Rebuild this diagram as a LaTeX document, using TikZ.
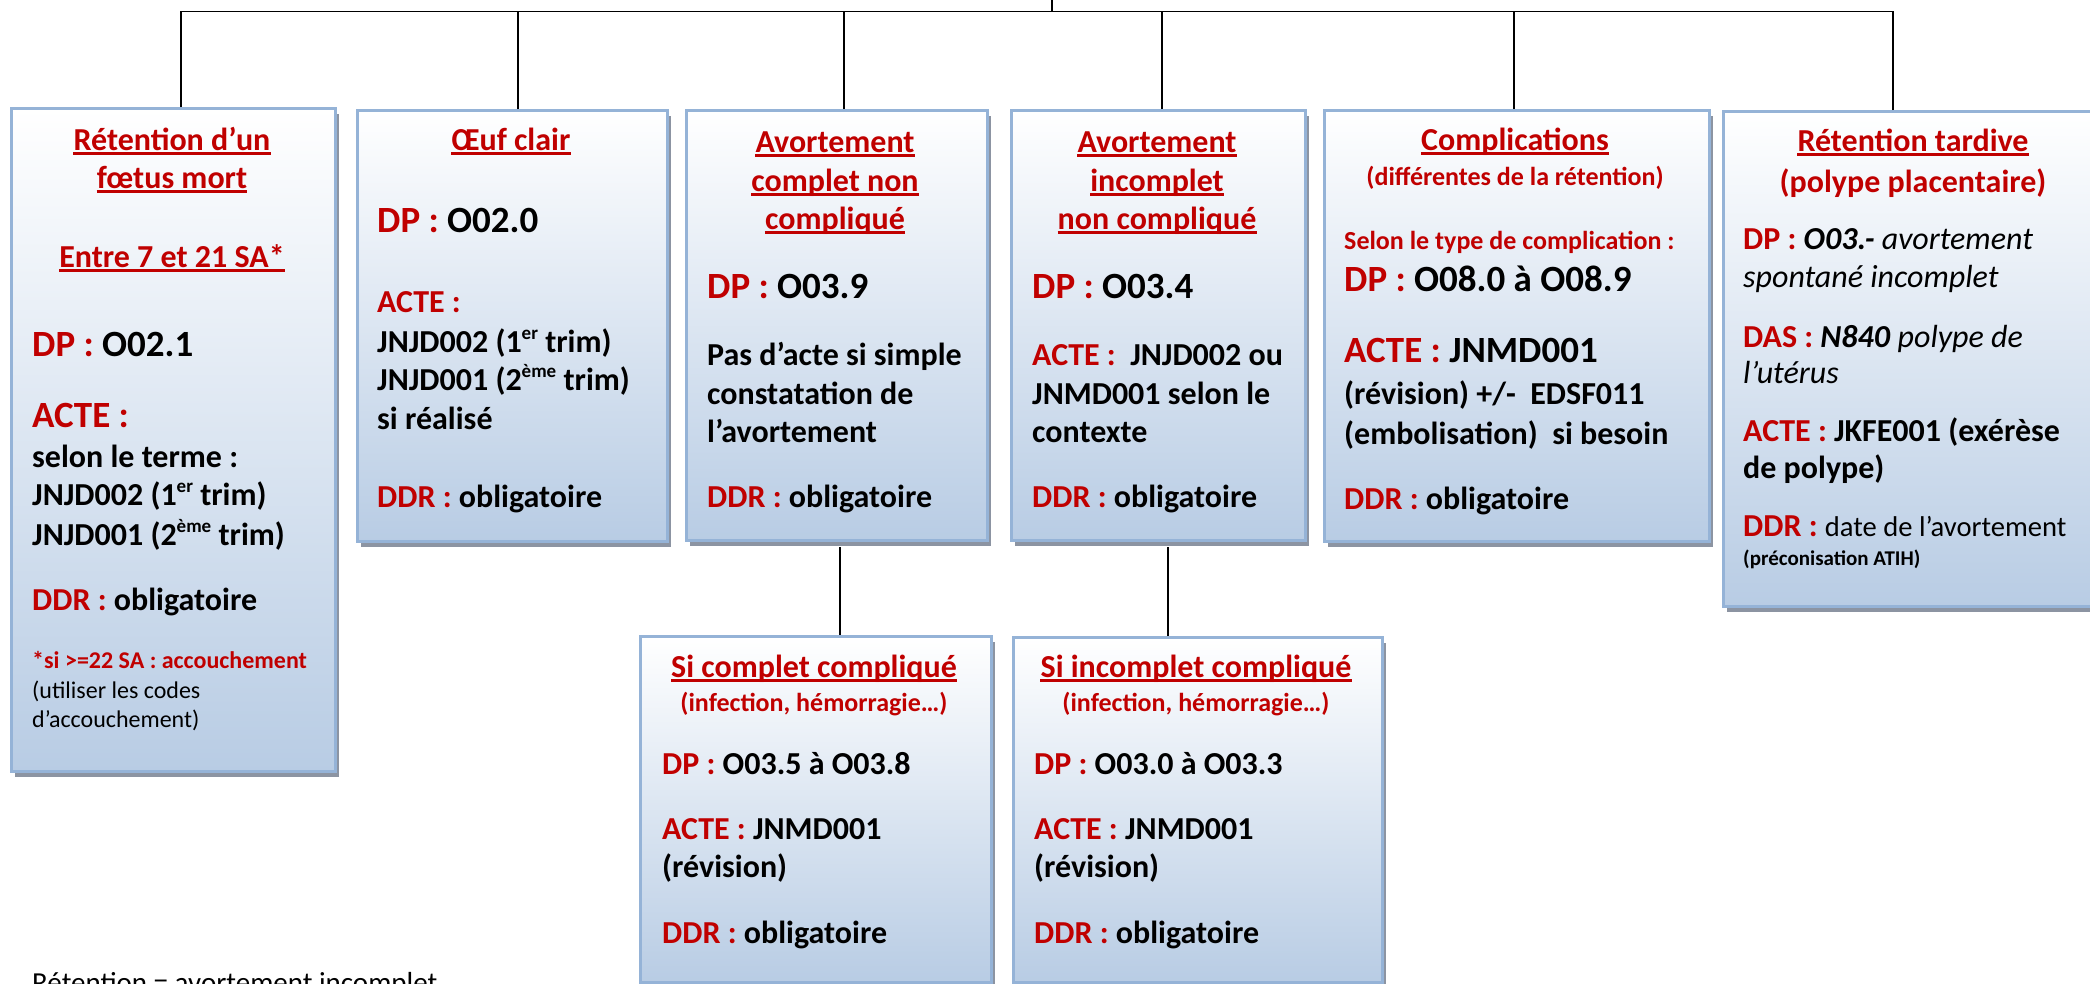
\documentclass[tikz,border=0pt]{standalone}
\usepackage{fontspec}
\setmainfont{Carlito}
\usetikzlibrary{shadows}
\definecolor{rd}{HTML}{C00000}
\definecolor{bxborder}{RGB}{149,179,215}
\definecolor{bxbottom}{RGB}{184,204,228}
\definecolor{shd}{RGB}{140,148,162}
\newcommand\redt[1]{\textcolor{rd}{#1}}
\newcommand\supx[1]{\raisebox{0.38em}{\fontsize{19}{19}\selectfont #1}}
\newcommand\ulin[1]{\draw[ul] ([yshift=-3.5pt]#1.base west) -- ([yshift=-3.5pt]#1.base east);}
\begin{document}
\begin{tikzpicture}[x=1pt,y=-1pt,
 box/.style={draw=bxborder, line width=3pt, top color=white, bottom color=bxbottom,
   anchor=north west, inner sep=0pt,
   drop shadow={shadow xshift=3pt, shadow yshift=-5pt, fill=shd, opacity=1}},
 conn/.style={draw=black, line width=1.4pt},
 ul/.style={draw=rd, line width=2.6pt},
 ttl/.style={anchor=base, inner sep=0pt, text=rd, font=\fontsize{32}{38}\selectfont\bfseries},
 smc/.style={anchor=base, inner sep=0pt, text=rd, font=\fontsize{26}{31}\selectfont\bfseries},
 sml/.style={anchor=base west, inner sep=0pt, text=rd, font=\fontsize{26}{31}\selectfont\bfseries},
 bd/.style={anchor=base west, inner sep=0pt, font=\fontsize{32}{38}\selectfont\bfseries},
 big/.style={anchor=base west, inner sep=0pt, font=\fontsize{37}{44}\selectfont\bfseries},
 nt/.style={anchor=base west, inner sep=0pt, text=rd, font=\fontsize{24}{29}\selectfont\bfseries},
 ntr/.style={anchor=base west, inner sep=0pt, font=\fontsize{24}{29}\selectfont},
 tiny/.style={anchor=base west, inner sep=0pt, font=\fontsize{21}{25}\selectfont\bfseries},
 foot/.style={anchor=base west, inner sep=0pt, font=\fontsize{29}{35}\selectfont}
]
\useasboundingbox (0,0) rectangle (2090,983);
\clip (0,0) rectangle (2090,983);
\fill[white] (0,0) rectangle (2090,983);

% boxes
\node[box, minimum width=324pt, minimum height=663pt] (b1) at (10,107) {};
\node[box, minimum width=310pt, minimum height=431pt] (b2) at (356,109) {};
\node[box, minimum width=301pt, minimum height=430pt] (b3) at (685,109) {};
\node[box, minimum width=294pt, minimum height=430pt] (b4) at (1010,109) {};
\node[box, minimum width=385pt, minimum height=431pt] (b5) at (1323,109) {};
\node[box, minimum width=382pt, minimum height=495pt] (b6) at (1722,110) {};
\node[box, minimum width=351pt, minimum height=346pt] (b7) at (639,635) {};
\node[box, minimum width=369pt, minimum height=345pt] (b8) at (1012,636) {};

% connectors
\coordinate (root) at (1052,-3);
\coordinate (hub) at (1052,11.5);
\draw[conn] (root) -- (hub);
\draw[conn] ([xshift=171pt]b1.north west) |- (hub);
\draw[conn] ([xshift=162pt]b2.north west) |- (hub);
\draw[conn] ([xshift=159pt]b3.north west) |- (hub);
\draw[conn] ([xshift=152pt]b4.north west) |- (hub);
\draw[conn] ([xshift=191pt]b5.north west) |- (hub);
\draw[conn] ([xshift=171pt]b6.north west) |- (hub);
\draw[conn] ([xshift=155pt,yshift=-5pt]b3.south west) -- ([xshift=201pt]b7.north west);
\draw[conn] ([xshift=158pt,yshift=-5pt]b4.south west) -- ([xshift=156pt]b8.north west);

% box 1
\node[ttl] (t1a) at (172,150) {Rétention d’un}; \ulin{t1a}
\node[ttl] (t1b) at (172,188) {fœtus mort}; \ulin{t1b}
\node[ttl] (t1c) at (172,267) {Entre 7 et 21 SA*}; \ulin{t1c}
\node[big] (t1d) at (32,356) {\redt{DP :} O02.1};
\node[big] (t1e) at (32,427) {\redt{ACTE :}};
\node[bd] (t1f) at (32,467) {selon le terme :};
\node[bd] (t1g) at (32,505) {JNJD002 (1\supx{er} trim)};
\node[bd] (t1h) at (32,545) {JNJD001 (2\supx{ème} trim)};
\node[bd] (t1i) at (32,610) {\redt{DDR :} obligatoire};
\node[nt] (t1j) at (32,668) {*si >=22 SA : accouchement};
\node[ntr] (t1k) at (32,698) {(utiliser les codes};
\node[ntr] (t1l) at (32,727) {d’accouchement)};

% box 2
\node[ttl] (t2a) at (511,150) {Œuf clair}; \ulin{t2a}
\node[big] (t2b) at (377,232) {\redt{DP :} O02.0};
\node[bd] (t2c) at (377,312) {\redt{ACTE :}};
\node[bd] (t2d) at (377,352) {JNJD002 (1\supx{er} trim)};
\node[bd] (t2e) at (377,390) {JNJD001 (2\supx{ème} trim)};
\node[bd] (t2f) at (377,429) {si réalisé};
\node[bd] (t2g) at (377,507) {\redt{DDR :} obligatoire};

% box 3
\node[ttl] (t3a) at (835,152) {Avortement}; \ulin{t3a}
\node[ttl] (t3b) at (835,191) {complet non}; \ulin{t3b}
\node[ttl] (t3c) at (835,229) {compliqué}; \ulin{t3c}
\node[big] (t3d) at (707,298) {\redt{DP :} O03.9};
\node[bd] (t3e) at (707,365) {Pas d’acte si simple};
\node[bd] (t3f) at (707,404) {constatation de};
\node[bd] (t3g) at (707,442) {l’avortement};
\node[bd] (t3h) at (707,507) {\redt{DDR :} obligatoire};

% box 4
\node[ttl] (t4a) at (1157,152) {Avortement}; \ulin{t4a}
\node[ttl] (t4b) at (1157,191) {incomplet}; \ulin{t4b}
\node[ttl] (t4c) at (1157,229) {non compliqué}; \ulin{t4c}
\node[big] (t4d) at (1032,298) {\redt{DP :} O03.4};
\node[bd] (t4e) at (1032,365) {\redt{ACTE :}\ \ JNJD002 ou};
\node[bd] (t4f) at (1032,404) {JNMD001 selon le};
\node[bd] (t4g) at (1032,442) {contexte};
\node[bd] (t4h) at (1032,507) {\redt{DDR :} obligatoire};

% box 5
\node[ttl] (t5a) at (1515,150) {Complications}; \ulin{t5a}
\node[smc] (t5b) at (1515,185) {(différentes de la rétention)};
\node[sml] (t5c) at (1344,249) {Selon le type de complication :};
\node[big] (t5d) at (1344,291) {\redt{DP :} O08.0 à O08.9};
\node[big] (t5e) at (1344,362) {\redt{ACTE :} JNMD001};
\node[bd] (t5f) at (1344,404) {(révision) +/-\ \ EDSF011};
\node[bd] (t5g) at (1344,444) {(embolisation)\ \ si besoin};
\node[bd] (t5h) at (1344,509) {\redt{DDR :} obligatoire};

% box 6
\node[ttl] (t6a) at (1913,151) {Rétention tardive}; \ulin{t6a}
\node[ttl] (t6b) at (1913,192) {(polype placentaire)};
\node[bd] (t6c) at (1743,249) {\redt{DP :} \textit{O03.-} \textmd{\textit{avortement}}};
\node[bd] (t6d) at (1743,287) {\textmd{\textit{spontané incomplet}}};
\node[bd] (t6e) at (1743,347) {\redt{DAS :} \textit{N840} \textmd{\textit{polype de}}};
\node[bd] (t6f) at (1743,383) {\textmd{\textit{l’utérus}}};
\node[bd] (t6g) at (1743,441) {\redt{ACTE :} JKFE001 (exérèse};
\node[bd] (t6h) at (1743,478) {de polype)};
\node[bd] (t6i) at (1743,536) {\redt{DDR :} {\fontsize{28.6}{34}\selectfont\mdseries date de l’avortement}};
\node[tiny] (t6j) at (1743,565) {(préconisation ATIH)};

% box 7
\node[ttl] (t7a) at (814,677) {Si complet compliqué}; \ulin{t7a}
\node[smc] (t7b) at (814,711) {(infection, hémorragie…)};
\node[bd] (t7c) at (662,774) {\redt{DP :} O03.5 à O03.8};
\node[bd] (t7d) at (662,839) {\redt{ACTE :} JNMD001};
\node[bd] (t7e) at (662,877) {(révision)};
\node[bd] (t7f) at (662,943) {\redt{DDR :} obligatoire};

% box 8
\node[ttl] (t8a) at (1196,677) {Si incomplet compliqué}; \ulin{t8a}
\node[smc] (t8b) at (1196,711) {(infection, hémorragie…)};
\node[bd] (t8c) at (1034,774) {\redt{DP :} O03.0 à O03.3};
\node[bd] (t8d) at (1034,839) {\redt{ACTE :} JNMD001};
\node[bd] (t8e) at (1034,877) {(révision)};
\node[bd] (t8f) at (1034,943) {\redt{DDR :} obligatoire};

% footer
\node[foot] (ft) at (32,992) {Rétention = avortement incomplet};
\end{tikzpicture}
\end{document}
